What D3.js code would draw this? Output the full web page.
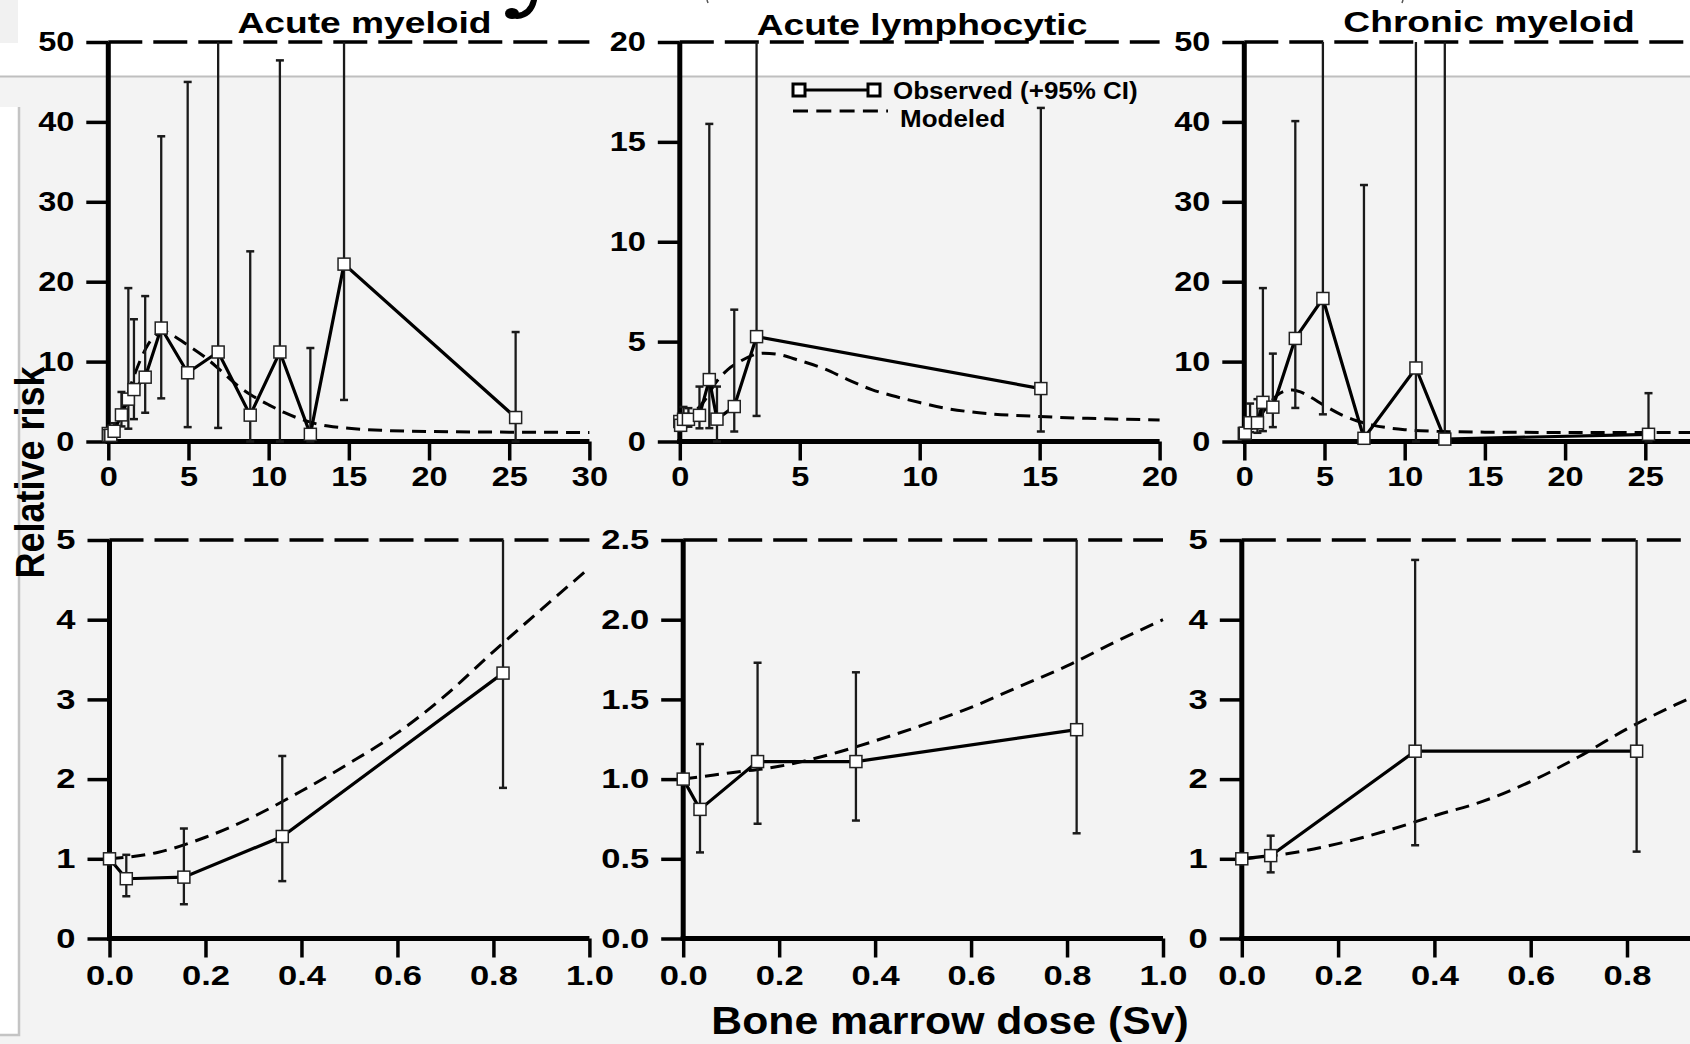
<!DOCTYPE html>
<html>
<head>
<meta charset="utf-8">
<script src="https://cdn.jsdelivr.net/npm/d3@7"></script>
<style>
  body { margin: 0; background: #fff; }
  svg { display: block; }
</style>
</head>
<body>
<svg id="chart" width="1690" height="1044"></svg>
<script>
// ---- data (relative risk by bone marrow dose, Sv) ----
const titles = ["Acute myeloid", "Acute lymphocytic", "Chronic myeloid"]

// Acute myeloid: observed points, 95% CI (hi values above the axis run off the top)
const amlDose = [0, 0.035, 0.155, 0.36, 0.82, 1.25, 1.6, 2.3, 3.3, 4.95, 6.85, 8.85, 10.7, 12.6, 14.7, 25.4]
const amlRR   = [1.0, 0.75, 0.77, 1.28, 3.33, 5.3, 6.5, 8.05, 14.2, 8.6, 11.2, 3.3, 11.2, 0.9, 22.2, 3.0]
const amlLo   = [null, 0.53, 0.43, 0.72, 1.89, 1.6, 2.8, 3.6, 5.4, 1.8, 1.7, 0, 0, 0, 5.2, 0]
const amlHi   = [null, 1.05, 1.38, 2.29, 6.2, 19.2, 15.3, 18.2, 38.2, 45.0, 60, 23.8, 47.7, 11.7, 60, 13.7]
const amlModelDose = [0, 0.1, 0.2, 0.3, 0.4, 0.5, 0.6, 0.7, 0.8, 0.9, 1.0, 1.5, 2.0, 2.5, 3.0, 3.5, 4.0, 5.0, 6.0, 7.0, 8.0, 9.0, 10, 11, 12, 13, 14, 15, 17, 20, 25, 30]
const amlModelRR   = [1.0, 1.08, 1.27, 1.53, 1.85, 2.2, 2.58, 3.05, 3.6, 4.13, 4.65, 7.6, 10.2, 12.2, 13.4, 13.8, 13.3, 12.0, 10.6, 8.9, 7.1, 5.7, 4.6, 3.6, 2.8, 2.2, 1.85, 1.65, 1.4, 1.25, 1.17, 1.13]

// Acute lymphocytic
const allDose = [0, 0.035, 0.155, 0.36, 0.82, 1.23, 1.55, 2.27, 3.2, 15.05]
const allRR   = [1.0, 0.81, 1.11, 1.11, 1.31, 3.1, 1.12, 1.75, 5.25, 2.65]
const allLo   = [null, 0.54, 0.72, 0.74, 0.66, 0.67, 0, 0.5, 1.28, 0.5]
const allHi   = [null, 1.22, 1.73, 1.67, 2.75, 15.9, 2.75, 6.6, 25, 16.7]
const allModelDose = [0, 0.1, 0.2, 0.3, 0.4, 0.5, 0.6, 0.7, 0.8, 0.9, 1.0, 1.5, 2.0, 2.5, 3.0, 3.5, 4.0, 5.0, 6.0, 7.0, 8.0, 9.0, 10, 11, 12, 13, 15, 17, 20]
const allModelRR   = [1.0, 1.04, 1.08, 1.15, 1.24, 1.34, 1.45, 1.58, 1.71, 1.86, 2.0, 2.95, 3.6, 4.0, 4.3, 4.42, 4.38, 4.05, 3.65, 3.1, 2.6, 2.25, 1.95, 1.68, 1.5, 1.38, 1.25, 1.16, 1.08]

// Chronic myeloid
const cmlDose = [0, 0.06, 0.36, 0.82, 1.16, 1.78, 3.18, 4.9, 7.46, 10.7, 12.5, 25.2]
const cmlRR   = [1.0, 1.04, 2.35, 2.35, 4.9, 4.3, 12.9, 17.9, 0.4, 9.2, 0.3, 0.9]
const cmlLo   = [null, 0.83, 1.17, 1.09, 1.3, 1.8, 4.2, 3.4, 0, 0, 0, 0]
const cmlHi   = [null, 1.29, 4.75, 5.3, 19.2, 11.0, 40.1, 60, 32.1, 60, 60, 6.05]
const cmlModelDose = [0, 0.1, 0.2, 0.3, 0.4, 0.5, 0.6, 0.7, 0.8, 0.9, 1.0, 1.5, 2.0, 2.5, 3.0, 3.5, 4.0, 5.0, 6.0, 7.0, 8.0, 9.0, 10, 11, 12, 13, 15, 20, 25, 30]
const cmlModelRR   = [1.0, 1.07, 1.19, 1.35, 1.54, 1.72, 1.97, 2.28, 2.63, 2.93, 3.2, 4.6, 5.7, 6.3, 6.45, 6.2, 5.7, 4.5, 3.4, 2.6, 2.05, 1.7, 1.48, 1.35, 1.27, 1.22, 1.17, 1.13, 1.12, 1.12]

const highDoseTicks = [0, 5, 10, 15, 20, 25, 30]
const lowDoseTicks = [0, 0.2, 0.4, 0.6, 0.8, 1.0]
const rr50Ticks = [0, 10, 20, 30, 40, 50]
const rr20Ticks = [0, 5, 10, 15, 20]
const rr5Ticks = [0, 1, 2, 3, 4, 5]
const rr25Ticks = [0, 0.5, 1.0, 1.5, 2.0, 2.5]

const W = 1690
const FONT = "'Liberation Sans', Arial, Helvetica, sans-serif"

const zip = (dose, rr, lo, hi) => dose.map((d, i) => ({ dose: d, rr: rr[i], lo: lo ? lo[i] : null, hi: hi ? hi[i] : null }))

const diseases = [
  { obs: zip(amlDose, amlRR, amlLo, amlHi), model: zip(amlModelDose, amlModelRR) },
  { obs: zip(allDose, allRR, allLo, allHi), model: zip(allModelDose, allModelRR) },
  { obs: zip(cmlDose, cmlRR, cmlLo, cmlHi), model: zip(cmlModelDose, cmlModelRR) }
]

const svg = d3.select("#chart")

// ---- slide background ----
svg.append("rect").attr("width", W).attr("height", 1044).attr("fill", "#fff")
svg.append("rect").attr("width", 18).attr("height", 43).attr("fill", "#f1f1f1")
svg.append("rect").attr("y", 77).attr("width", W).attr("height", 967).attr("fill", "#f3f3f3")
svg.append("line").attr("x1", 0).attr("x2", W).attr("y1", 76.5).attr("y2", 76.5)
  .attr("stroke", "#bfbfbf").attr("stroke-width", 2)
svg.append("rect").attr("y", 107).attr("width", 19).attr("height", 928).attr("fill", "#fff")
svg.append("path").attr("d", "M19,107V1035H0").attr("fill", "none")
  .attr("stroke", "#c4c4c4").attr("stroke-width", 2.5)

// bits of the slide heading that was cropped off above
svg.append("path").attr("d", "M534,0 C532,9 527,15 517,16").attr("fill", "none")
  .attr("stroke", "#000").attr("stroke-width", 6).attr("stroke-linecap", "round")
svg.append("ellipse").attr("cx", 512).attr("cy", 13.5).attr("rx", 7).attr("ry", 5.5).attr("fill", "#000")
svg.append("path").attr("d", "M707,0 L708,3 M1403,0 L1402,3").attr("stroke", "#555").attr("stroke-width", 1.5)

function stretched(parent, x, y, str, size, sx, anchor) {
  return parent.append("text")
    .attr("transform", `translate(${x},${y}) scale(${sx},1)`)
    .attr("text-anchor", anchor || "middle")
    .attr("font-family", FONT).attr("font-weight", "bold")
    .attr("font-size", size).attr("fill", "#000")
    .text(str)
}

const fmtInt = d3.format("d")
const fmt1 = d3.format(".1f")

const panels = [
  { d: 0, xDomain: [0, 30], xRange: [108.3, 589.4], yDomain: [0, 50], yRange: [441.5, 42],
    xTicks: highDoseTicks, yTicks: rr50Ticks, xFmt: fmtInt, yFmt: fmtInt, top: true },
  { d: 1, xDomain: [0, 20], xRange: [679.8, 1159.6], yDomain: [0, 20], yRange: [441.5, 42],
    xTicks: highDoseTicks.filter(t => t <= 20), yTicks: rr20Ticks, xFmt: fmtInt, yFmt: fmtInt, top: true },
  { d: 2, xDomain: [0, 30], xRange: [1244.3, 1725.5], yDomain: [0, 50], yRange: [441.5, 42],
    xTicks: highDoseTicks, yTicks: rr50Ticks, xFmt: fmtInt, yFmt: fmtInt, top: true },
  { d: 0, xDomain: [0, 1], xRange: [109.5, 589.4], yDomain: [0, 5], yRange: [938.5, 540],
    xTicks: lowDoseTicks, yTicks: rr5Ticks, xFmt: fmt1, yFmt: fmtInt, top: false },
  { d: 1, xDomain: [0, 1], xRange: [683.2, 1163], yDomain: [0, 2.5], yRange: [938.5, 540],
    xTicks: lowDoseTicks, yTicks: rr25Ticks, xFmt: fmt1, yFmt: fmt1, top: false },
  { d: 2, xDomain: [0, 1], xRange: [1241.8, 1723.3], yDomain: [0, 5], yRange: [938.5, 540],
    xTicks: lowDoseTicks, yTicks: rr5Ticks, xFmt: fmt1, yFmt: fmtInt, top: false }
]

panels.forEach(drawPanel)

function drawPanel(p) {
  const g = svg.append("g")
  const x = d3.scaleLinear().domain(p.xDomain).range(p.xRange)
  const y = d3.scaleLinear().domain(p.yDomain).range(p.yRange)
  const [x0, x1] = p.xDomain
  const [y0, y1] = p.yDomain
  const tickFont = p.top ? 28 : 27
  const tickSx = p.top ? 1.16 : 1.28
  // the right-hand panels run past the slide edge: skip ticks that fall off it
  const xTicks = p.xTicks.filter(t => x(t) < W - 10)

  const obs = diseases[p.d].obs.filter(d => d.dose <= x1)
  const model = diseases[p.d].model.filter(d => d.dose <= x1)

  // dashed upper frame
  g.append("line")
    .attr("x1", x(x0)).attr("x2", x(x1)).attr("y1", y(y1)).attr("y2", y(y1))
    .attr("stroke", "#000").attr("stroke-width", 3.5).attr("stroke-dasharray", "34,11")

  // y axis
  const ya = g.append("g").attr("transform", `translate(${x(x0)},0)`)
    .call(d3.axisLeft(y).tickValues(p.yTicks).tickFormat(p.yFmt).tickSize(22).tickPadding(13))
  ya.select(".domain").remove()
  ya.selectAll(".tick line").attr("stroke", "#000").attr("stroke-width", 3.5)
  ya.selectAll(".tick text")
    .attr("font-family", FONT).attr("font-weight", "bold").attr("font-size", tickFont).attr("fill", "#000")
    .attr("x", -34 / tickSx).attr("transform", `scale(${tickSx},1)`)

  // x axis
  const xa = g.append("g").attr("transform", `translate(0,${y(y0)})`)
    .call(d3.axisBottom(x).tickValues(xTicks).tickFormat(p.xFmt).tickSize(19).tickPadding(p.top ? 6 : 8))
  xa.select(".domain").remove()
  xa.selectAll(".tick line").attr("stroke", "#000").attr("stroke-width", 3.5)
  xa.selectAll(".tick text")
    .attr("font-family", FONT).attr("font-weight", "bold").attr("font-size", tickFont).attr("fill", "#000")
    .attr("transform", `scale(${tickSx},1)`)

  g.append("line").attr("x1", x(x0)).attr("x2", x(x0)).attr("y1", y(y0) + 2.5).attr("y2", y(y1))
    .attr("stroke", "#000").attr("stroke-width", 5)
  g.append("line").attr("x1", x(x0) - 2.5).attr("x2", x(x1)).attr("y1", y(y0)).attr("y2", y(y0))
    .attr("stroke", "#000").attr("stroke-width", 5)

  // modeled curve
  g.append("path").datum(model)
    .attr("d", d3.line().x(d => x(d.dose)).y(d => y(d.rr)).curve(d3.curveMonotoneX))
    .attr("fill", "none").attr("stroke", "#000").attr("stroke-width", 3)
    .attr("stroke-dasharray", "14,8")

  // confidence intervals
  const ci = obs.filter(d => d.lo != null)
  const clampY = v => y(Math.min(v, y1))
  g.selectAll(".ci").data(ci).join("line").attr("class", "ci")
    .attr("x1", d => x(d.dose)).attr("x2", d => x(d.dose))
    .attr("y1", d => clampY(d.hi)).attr("y2", d => y(d.lo))
    .attr("stroke", "#1a1a1a").attr("stroke-width", 2.3)
  const caps = []
  ci.forEach(d => {
    caps.push({ dose: d.dose, v: d.lo })
    if (d.hi <= y1) caps.push({ dose: d.dose, v: d.hi })
  })
  g.selectAll(".cap").data(caps).join("line").attr("class", "cap")
    .attr("x1", d => x(d.dose) - 4).attr("x2", d => x(d.dose) + 4)
    .attr("y1", d => y(d.v)).attr("y2", d => y(d.v))
    .attr("stroke", "#1a1a1a").attr("stroke-width", 2.5)

  // observed line + markers
  g.append("path").datum(obs)
    .attr("d", d3.line().x(d => x(d.dose)).y(d => y(d.rr)))
    .attr("fill", "none").attr("stroke", "#000").attr("stroke-width", 3.2)
  g.selectAll(".pt").data(obs).join("rect").attr("class", "pt")
    .attr("x", d => x(d.dose) - 6).attr("y", d => y(d.rr) - 6)
    .attr("width", 12).attr("height", 12)
    .attr("fill", "#fff").attr("stroke", "#222").attr("stroke-width", 1.5)
}

// ---- titles ----
const titleX = [364.5, 922, 1489]
const titleY = [33, 35, 32]
titles.forEach((t, i) => stretched(svg, titleX[i], titleY[i], t, 30, 1.24))

// ---- legend ----
const lg = svg.append("g")
lg.append("line").attr("x1", 799).attr("x2", 874).attr("y1", 90).attr("y2", 90)
  .attr("stroke", "#000").attr("stroke-width", 3)
;[799, 874].forEach(cx => lg.append("rect")
  .attr("x", cx - 6).attr("y", 84).attr("width", 12).attr("height", 12)
  .attr("fill", "#fff").attr("stroke", "#000").attr("stroke-width", 3))
stretched(lg, 893, 98.5, "Observed (+95% CI)", 23, 1.13, "start")
lg.append("line").attr("x1", 793).attr("x2", 888).attr("y1", 111).attr("y2", 111)
  .attr("stroke", "#000").attr("stroke-width", 3).attr("stroke-dasharray", "15,8.3")
stretched(lg, 900, 126.5, "Modeled", 23, 1.13, "start")

// ---- axis titles ----
stretched(svg, 950, 1034, "Bone marrow dose (Sv)", 38, 1.125)
svg.append("text")
  .attr("transform", "translate(44,472.5) rotate(-90) scale(1,1.12)")
  .attr("text-anchor", "middle")
  .attr("font-family", FONT).attr("font-weight", "bold").attr("font-size", 36)
  .text("Relative risk")
</script>
</body>
</html>
